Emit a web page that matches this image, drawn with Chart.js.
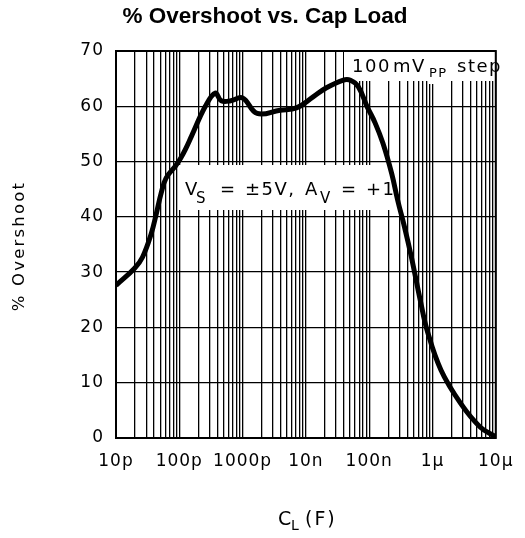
<!DOCTYPE html>
<html>
<head>
<meta charset="utf-8">
<style>
  html, body { margin: 0; padding: 0; background: #fff; }
</style>
</head>
<body>
<canvas id="overshootChart" width="525" height="538"></canvas>

<script src="https://cdn.jsdelivr.net/npm/chart.js"></script>
<script>
// values
const capLoad = [1e-11, 1.97e-11, 2.62e-11, 3.61e-11, 4.32e-11, 5.17e-11, 6.18e-11, 8.83e-11, 1.05e-10, 1.26e-10,
                 1.56e-10, 2.58e-10, 3.7e-10, 4.6e-10, 6.5e-10, 1e-9, 1.7e-9, 3.9e-9, 7.1e-9, 1.3e-8,
                 2.08e-8, 3.81e-8, 5.07e-8, 6.75e-8, 9.3e-8, 1.24e-7, 1.65e-7, 2.27e-7, 2.82e-7, 3.61e-7,
                 4.65e-7, 6.5e-7, 8.22e-7, 1.36e-6, 2.77e-6, 5.65e-6, 1e-5];
const overshoot = [27.6, 30.7, 32.7, 37, 40.5, 44.3, 47, 49.3, 50.6, 52.3,
                   54.6, 60, 62.4, 61, 61, 61.5, 58.7, 59.3, 59.7, 61.7,
                   63.3, 64.7, 64.7, 63.5, 59.9, 57, 53.3, 47.8, 43, 38.2,
                   32.7, 24.6, 19.5, 12.3, 6.3, 2, 0.2];

const decadeValues = [1e-11, 1e-10, 1e-9, 1e-8, 1e-7, 1e-6, 1e-5];
const decadeLabels = ['10p', '100p', '1000p', '10n', '100n', '1\u03bc', '10\u03bc'];
const yTickValues = [0, 10, 20, 30, 40, 50, 60, 70];

const FONT = '"DejaVu Sans", sans-serif';

// grid at 1..9 of every decade
function logGridTicks() {
    const out = [];
    for (let e = -11; e < -5; e++) {
        for (let k = 1; k <= 9; k++) out.push({ value: k * Math.pow(10, e) });
    }
    out.push({ value: 1e-5 });
    return out;
}

function decadeLabel(v) {
    const lg = Math.log10(v);
    if (Math.abs(lg - Math.round(lg)) > 1e-6) return '';
    const i = decadeValues.findIndex(d => Math.abs(Math.log10(d) - lg) < 1e-6);
    return i >= 0 ? decadeLabels[i] : '';
}

// draw text pieces at given x, baseline y, size
function drawPieces(ctx, pieces) {
    pieces.forEach(p => {
        ctx.font = p.size + 'px ' + FONT;
        ctx.fillText(p.t, p.x, p.y);
    });
}

const decorPlugin = {
    id: 'decor',
    beforeDraw(chart) {
        chart.ctx.letterSpacing = '1px';
    },
    beforeDatasetsDraw(chart) {
        const ctx = chart.ctx;
        const a = chart.chartArea;
        ctx.save();
        ctx.fillStyle = '#fff';
        ctx.fillRect(344, a.top + 1, a.right - 345, 29);
        ctx.fillRect(428, a.top + 29, 20, 4);
        ctx.fillRect(178, 165, 217, 45);

        ctx.strokeStyle = '#000';
        ctx.lineWidth = 2;
        ctx.strokeRect(a.left, a.top, a.right - a.left, a.bottom - a.top);

        ctx.fillStyle = '#000';
        ctx.textAlign = 'left';
        ctx.textBaseline = 'alphabetic';
        ctx.letterSpacing = '1.5px';
        drawPieces(ctx, [
            { t: '100', x: 352, y: 72, size: 18 },
            { t: 'mV', x: 393, y: 72, size: 18 },
            { t: 'PP', x: 429, y: 77, size: 13 },
            { t: 'step', x: 457, y: 72, size: 18 },
            { t: 'V', x: 185, y: 195, size: 18 },
            { t: 'S', x: 196, y: 203, size: 15 },
            { t: '=', x: 220, y: 195, size: 18 },
            { t: '\u00b15V,', x: 245, y: 195, size: 18 },
            { t: 'A', x: 305, y: 195, size: 18 },
            { t: 'V', x: 320, y: 203, size: 15 },
            { t: '=', x: 341, y: 195, size: 18 },
            { t: '+1', x: 366, y: 195, size: 18 }
        ]);
        ctx.restore();
    },
    afterDraw(chart) {
        const ctx = chart.ctx;
        ctx.save();
        ctx.fillStyle = '#000';
        ctx.textBaseline = 'alphabetic';

        // chart title
        ctx.letterSpacing = '0px';
        ctx.textAlign = 'center';
        ctx.font = 'bold 22.5px "Liberation Sans", Arial, sans-serif';
        ctx.fillText('% Overshoot vs. Cap Load', 265, 23);

        // x axis title with subscript
        ctx.textAlign = 'left';
        ctx.letterSpacing = '2px';
        drawPieces(ctx, [
            { t: 'C', x: 278, y: 525, size: 19 },
            { t: 'L', x: 291, y: 530, size: 14 },
            { t: '(F)', x: 305, y: 525, size: 19 }
        ]);

        // y axis title
        ctx.translate(24, 246);
        ctx.rotate(-Math.PI / 2);
        ctx.textAlign = 'center';
        ctx.letterSpacing = '2.2px';
        ctx.font = '16.5px ' + FONT;
        ctx.fillText('% Overshoot', 0, 0);
        ctx.restore();
    }
};

const ctx = document.getElementById('overshootChart').getContext('2d');

new Chart(ctx, {
    type: 'line',
    data: {
        datasets: [{
            data: capLoad.map((c, i) => ({ x: c, y: overshoot[i] })),
            borderColor: '#000',
            borderWidth: 5,
            pointRadius: 0,
            fill: false,
            tension: 0.4
        }]
    },
    options: {
        responsive: false,
        animation: false,
        layout: { padding: { top: 51, right: 22, left: 0, bottom: 0 } },
        scales: {
            x: {
                type: 'logarithmic',
                min: 1e-11,
                max: 1e-5,
                afterBuildTicks: scale => { scale.ticks = logGridTicks(); },
                afterFit: scale => { scale.height = 100; },
                grid: { color: '#000', lineWidth: 1.3, drawTicks: false },
                border: { display: false },
                ticks: {
                    autoSkip: false,
                    maxRotation: 0,
                    minRotation: 0,
                    padding: 13,
                    color: '#000',
                    font: { family: FONT, size: 17 },
                    callback: v => decadeLabel(v)
                }
            },
            y: {
                min: 0,
                max: 70,
                afterBuildTicks: scale => { scale.ticks = yTickValues.map(v => ({ value: v })); },
                afterFit: scale => { scale.width = 116; },
                grid: { color: '#000', lineWidth: 1.3, drawTicks: false },
                border: { display: false },
                ticks: {
                    padding: 12,
                    color: '#000',
                    font: { family: FONT, size: 17 }
                }
            }
        },
        plugins: {
            legend: { display: false },
            title: { display: false },
            tooltip: { enabled: false }
        }
    },
    plugins: [decorPlugin]
});
</script>
</body>
</html>
